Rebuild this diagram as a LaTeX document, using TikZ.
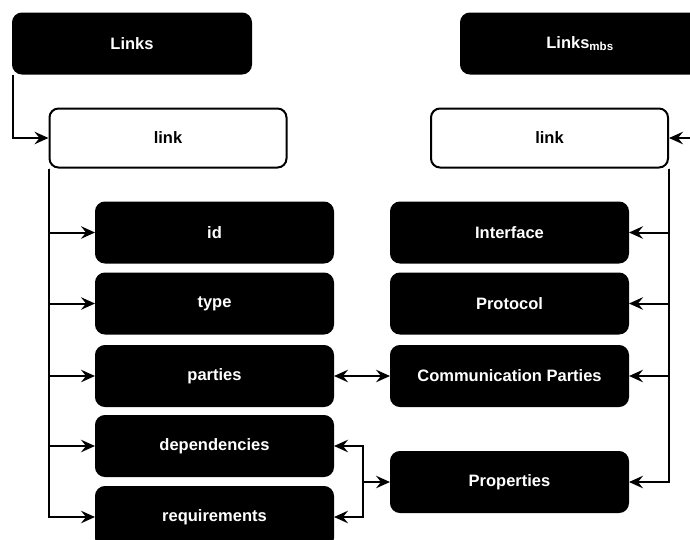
\documentclass[tikz,border=0pt]{standalone}
\usepackage{fontspec}
\setmainfont{Liberation Sans}
\usetikzlibrary{arrows.meta}
\begin{document}
\begin{tikzpicture}[x=1pt,y=-1pt,
  box/.style={rectangle,rounded corners=9pt,line width=2pt,draw=black,inner sep=0pt,
    minimum width=237pt,minimum height=60pt,font=\fontsize{16.5}{19}\selectfont\bfseries},
  dark/.style={box,fill=black,text=white},
  light/.style={box,fill=white,text=black},
  arr/.style={line width=2pt,-{Stealth[length=14pt,width=12.5pt,inset=5pt]}},
  darr/.style={line width=2pt,{Stealth[length=14pt,width=12.5pt,inset=5pt]}-{Stealth[length=14pt,width=12.5pt,inset=5pt]}}]
\clip (0,0) rectangle (690,539);
\fill[white] (0,0) rectangle (690,539);
% left column
\node[dark,minimum width=238pt] (Links) at (132,43.5) {Links};
\node[light,minimum height=59pt] (link1) at (168,138) {link};
\node[dark] (id) at (214.5,232.5) {id};
\node[dark] (type) at (214.5,303.5) {type};
\node[dark] (parties) at (214.5,376) {parties};
\node[dark] (deps) at (214.5,446) {dependencies};
\node[dark] (reqs) at (214.5,517) {requirements};
% right column
\node[dark,minimum width=238pt] (Lmbs) at (580,43.5) {Links\textsubscript{mbs}};
\node[light,minimum height=59pt] (link2) at (549.5,138) {link};
\node[dark] (iface) at (509.5,232.5) {Interface};
\node[dark] (proto) at (509.5,303.5) {Protocol};
\node[dark] (comm) at (509.5,376) {Communication Parties};
\node[dark] (prop) at (509.5,482) {Properties};
\coordinate (j) at (363,482);
% connectors
\draw[arr] ([xshift=1pt]Links.south west) |- (link1.west);
\draw[arr] ([xshift=-1pt]Lmbs.south east) |- (link2.east);
\foreach \t in {id,type,parties,deps,reqs}
  \draw[arr] (link1.south west) |- (\t.west);
\foreach \t in {iface,proto,comm,prop}
  \draw[arr] (link2.south east) |- (\t.east);
\draw[darr] (parties.east) -- (comm.west);
\draw[arr] (j) -- (prop.west);
\draw[arr] (j) |- (deps.east);
\draw[arr] (j) |- (reqs.east);
\end{tikzpicture}
\end{document}
